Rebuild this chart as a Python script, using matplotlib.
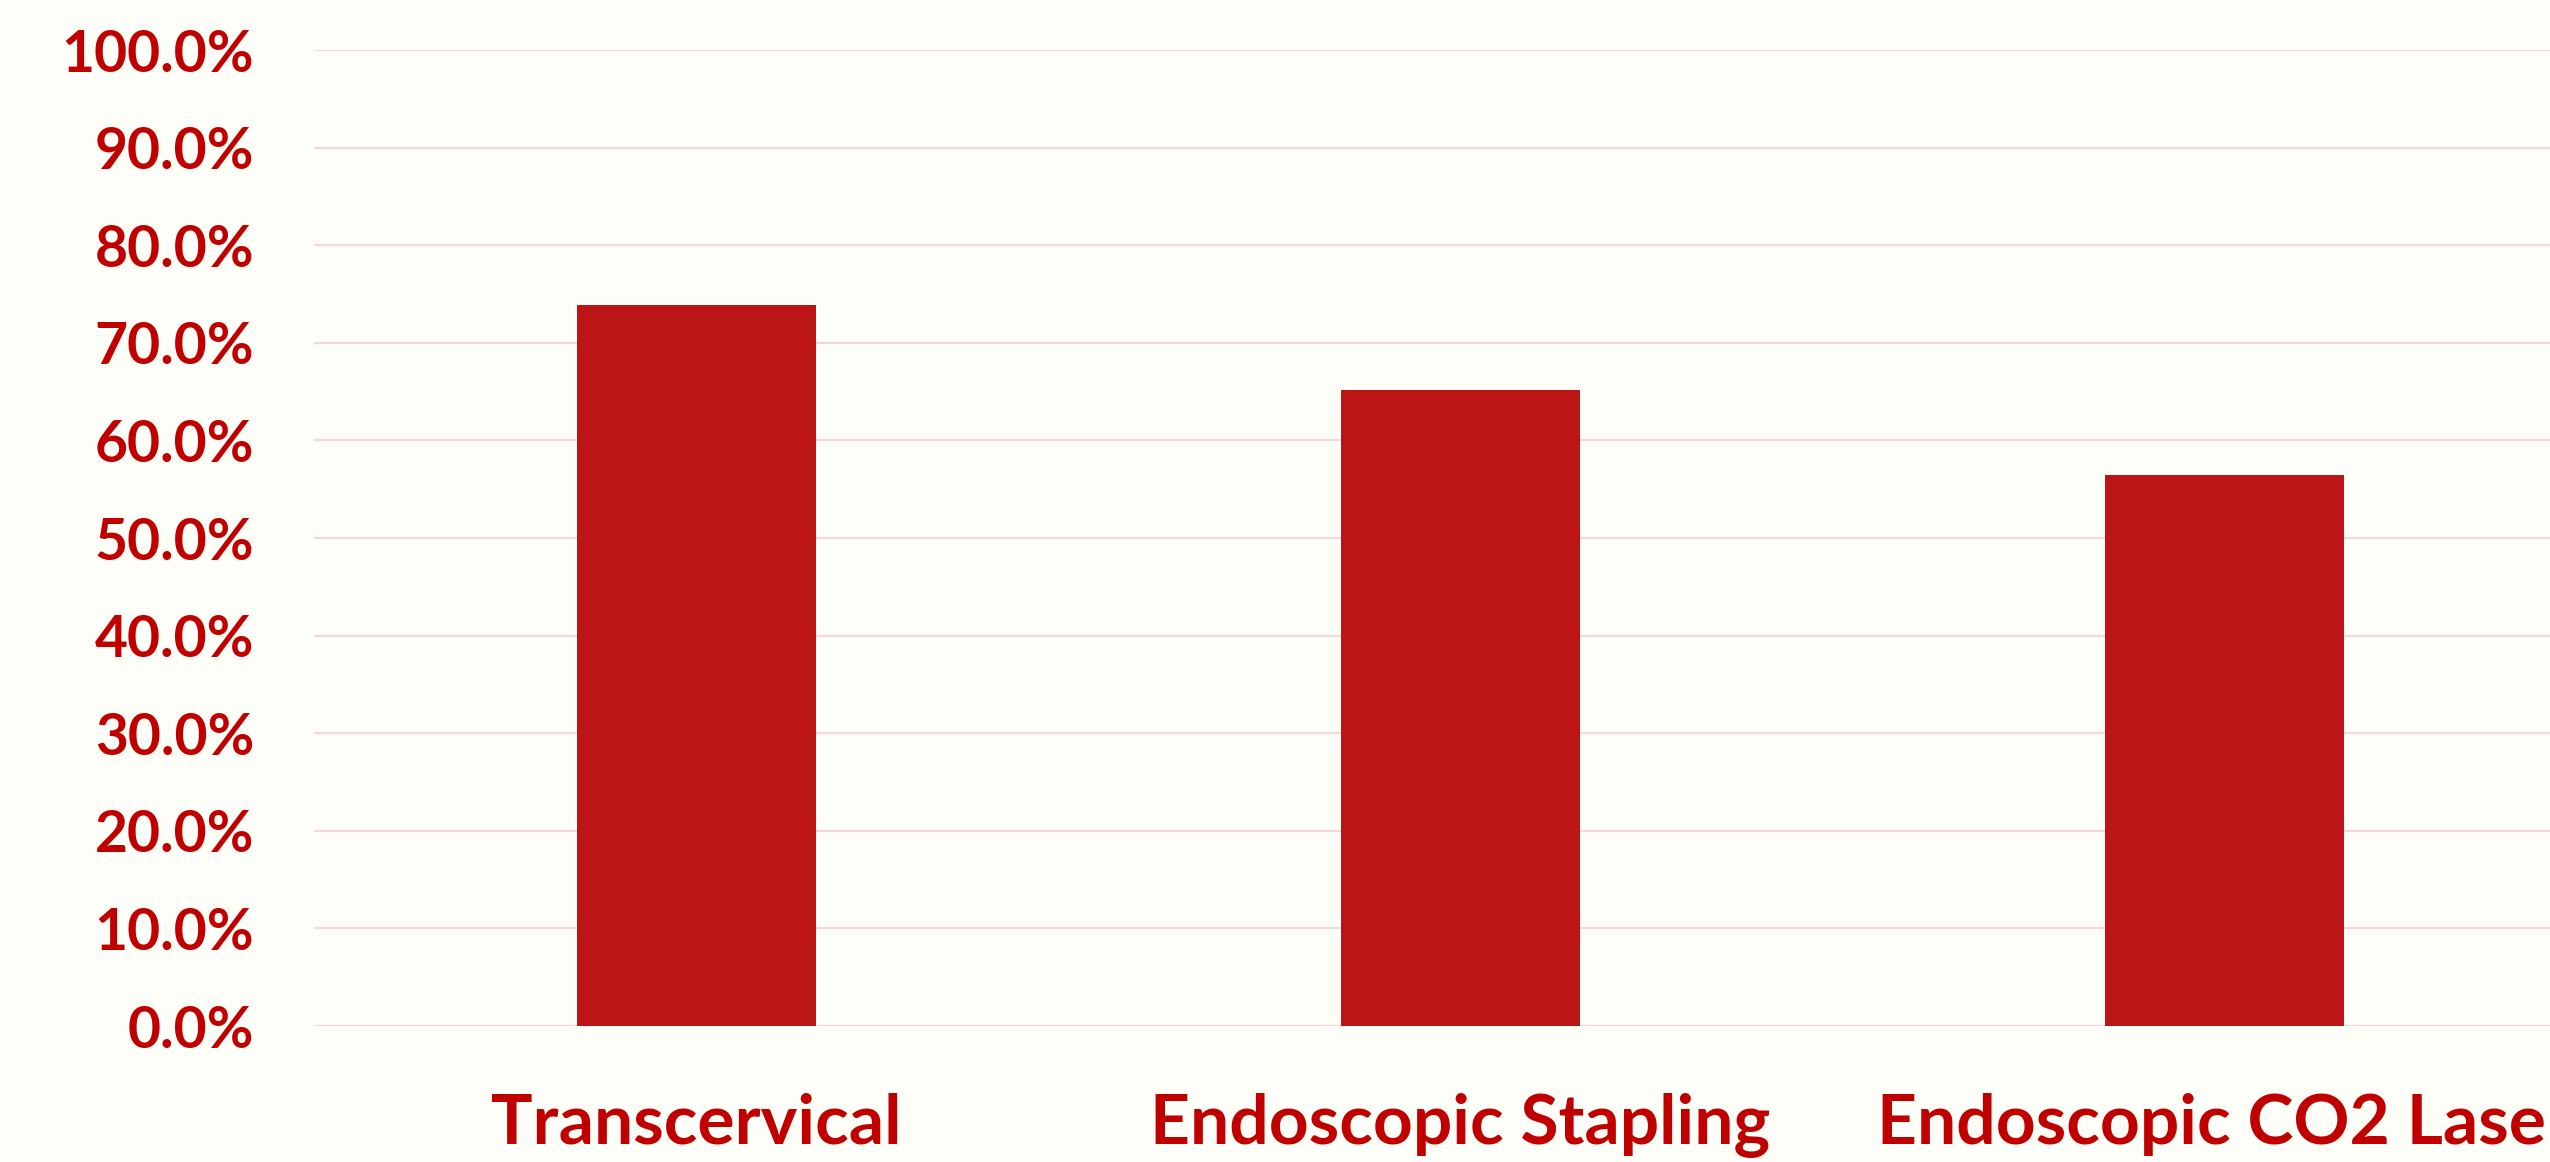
import matplotlib
matplotlib.use("Agg")
import matplotlib.pyplot as plt
from matplotlib.ticker import PercentFormatter

categories = ["Transcervical", "Endoscopic Stapling", "Endoscopic CO2 Laser"]
values = [0.739, 0.652, 0.565]
yticks = [0.0, 0.1, 0.2, 0.3, 0.4, 0.5, 0.6, 0.7, 0.8, 0.9, 1.0]

BG = "#FEFEF8"
BAR = "#BC1515"
TXT = "#C00000"
GRID = "#F7D6D9"

plt.rcParams['font.family'] = ['Lato', 'DejaVu Sans']

fig = plt.figure(figsize=(25.5, 11.62), dpi=100, facecolor=BG)
ax = fig.add_axes([314/2550, 1 - 1026/1162, 2293/2550, 976/1162])
ax.set_facecolor(BG)

x = list(range(len(categories)))
ax.bar(x, values, width=0.313, color=BAR, zorder=3)

ax.set_xlim(-0.5, len(categories) - 0.5)
ax.set_ylim(0, 1.0)
ax.set_yticks(yticks)
ax.yaxis.set_major_formatter(PercentFormatter(1.0, decimals=1))
ax.grid(axis='y', color=GRID, linewidth=1.6, zorder=0)
ax.set_axisbelow(True)

for s in ax.spines.values():
    s.set_visible(False)

ax.tick_params(axis='y', length=0, pad=43, labelsize=41, labelcolor=TXT)
ax.tick_params(axis='x', length=0, pad=48, labelsize=50, labelcolor=TXT)
ax.set_xticks(x)
ax.set_xticklabels(categories)
for lab in ax.get_yticklabels() + ax.get_xticklabels():
    lab.set_fontweight('bold')

fig.savefig("out.png", dpi=100, facecolor=BG)
